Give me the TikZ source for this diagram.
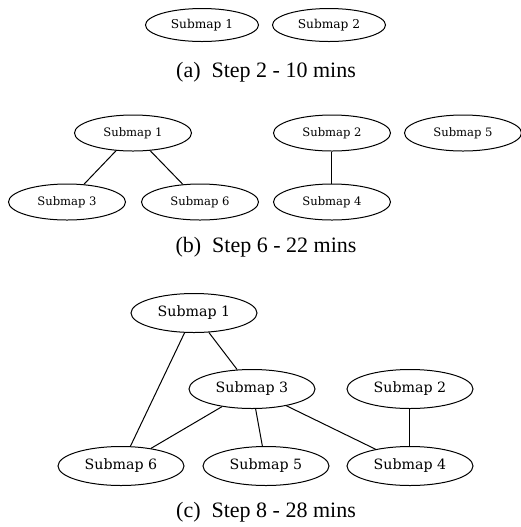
\documentclass[tikz,border=0pt]{standalone}
\usepackage{fontspec}
\setmainfont{Liberation Serif}
\newfontfamily\graphfont{DejaVu Serif}
\usetikzlibrary{shapes.geometric}

\tikzset{
	submap/.style={draw, ellipse, inner sep=0pt, line width=0.5pt},
	mapa/.style={minimum width=56.5pt, minimum height=16.5pt, font=\graphfont\fontsize{6.1}{7}\selectfont},
	mapb/.style={minimum width=58.5pt, minimum height=18pt, font=\graphfont\fontsize{5.8}{7}\selectfont},
	mapc/.style={minimum width=63pt, minimum height=19.5pt, font=\graphfont\fontsize{7.1}{8}\selectfont},
	subcap/.style={font=\fontsize{11}{13}\selectfont}
}

\begin{document}
\begin{tikzpicture}[x=0.5pt, y=-0.5pt, line width=0.5pt]
		\useasboundingbox (0,0) rectangle (521,527);
		% (a)
		\node[submap, mapa] (a1) at (202, 25) {Submap 1};
		\node[submap, mapa] (a2) at (329, 25) {Submap 2};
		\node[subcap] (capa) at (266, 72) {(a)\enskip Step 2 - 10 mins};
		
		% (b)
		\node[submap, mapb] (b1) at (133, 133) {Submap 1};
		\node[submap, mapb] (b2) at (332, 133) {Submap 2};
		\node[submap, mapb] (b5) at (463, 133) {Submap 5};
		\node[submap, mapb] (b3) at (67, 202) {Submap 3};
		\node[submap, mapb] (b6) at (200, 202) {Submap 6};
		\node[submap, mapb] (b4) at (332, 202) {Submap 4};
		\node[subcap] (capb) at (266, 247) {(b)\enskip Step 6 - 22 mins};
		
		\draw (b1) -- (b3);
		\draw (b1) -- (b6);
		\draw (b2) -- (b4);
		
		% (c)
		\node[submap, mapc] (c1) at (194, 313) {Submap 1};
		\node[submap, mapc] (c3) at (252, 389) {Submap 3};
		\node[submap, mapc] (c2) at (410, 389) {Submap 2};
		\node[submap, mapc] (c6) at (121, 466) {Submap 6};
		\node[submap, mapc] (c5) at (266, 466) {Submap 5};
		\node[submap, mapc] (c4) at (410, 466) {Submap 4};
		\node[subcap] (capc) at (266, 512) {(c)\enskip Step 8 - 28 mins};
		
		\draw (c1) -- (c6);
		\draw (c1) -- (c3);
		\draw (c3) -- (c6);
		\draw (c3) -- (c5);
		\draw (c3) -- (c4);
		\draw (c2) -- (c4);
\end{tikzpicture}
\end{document}
